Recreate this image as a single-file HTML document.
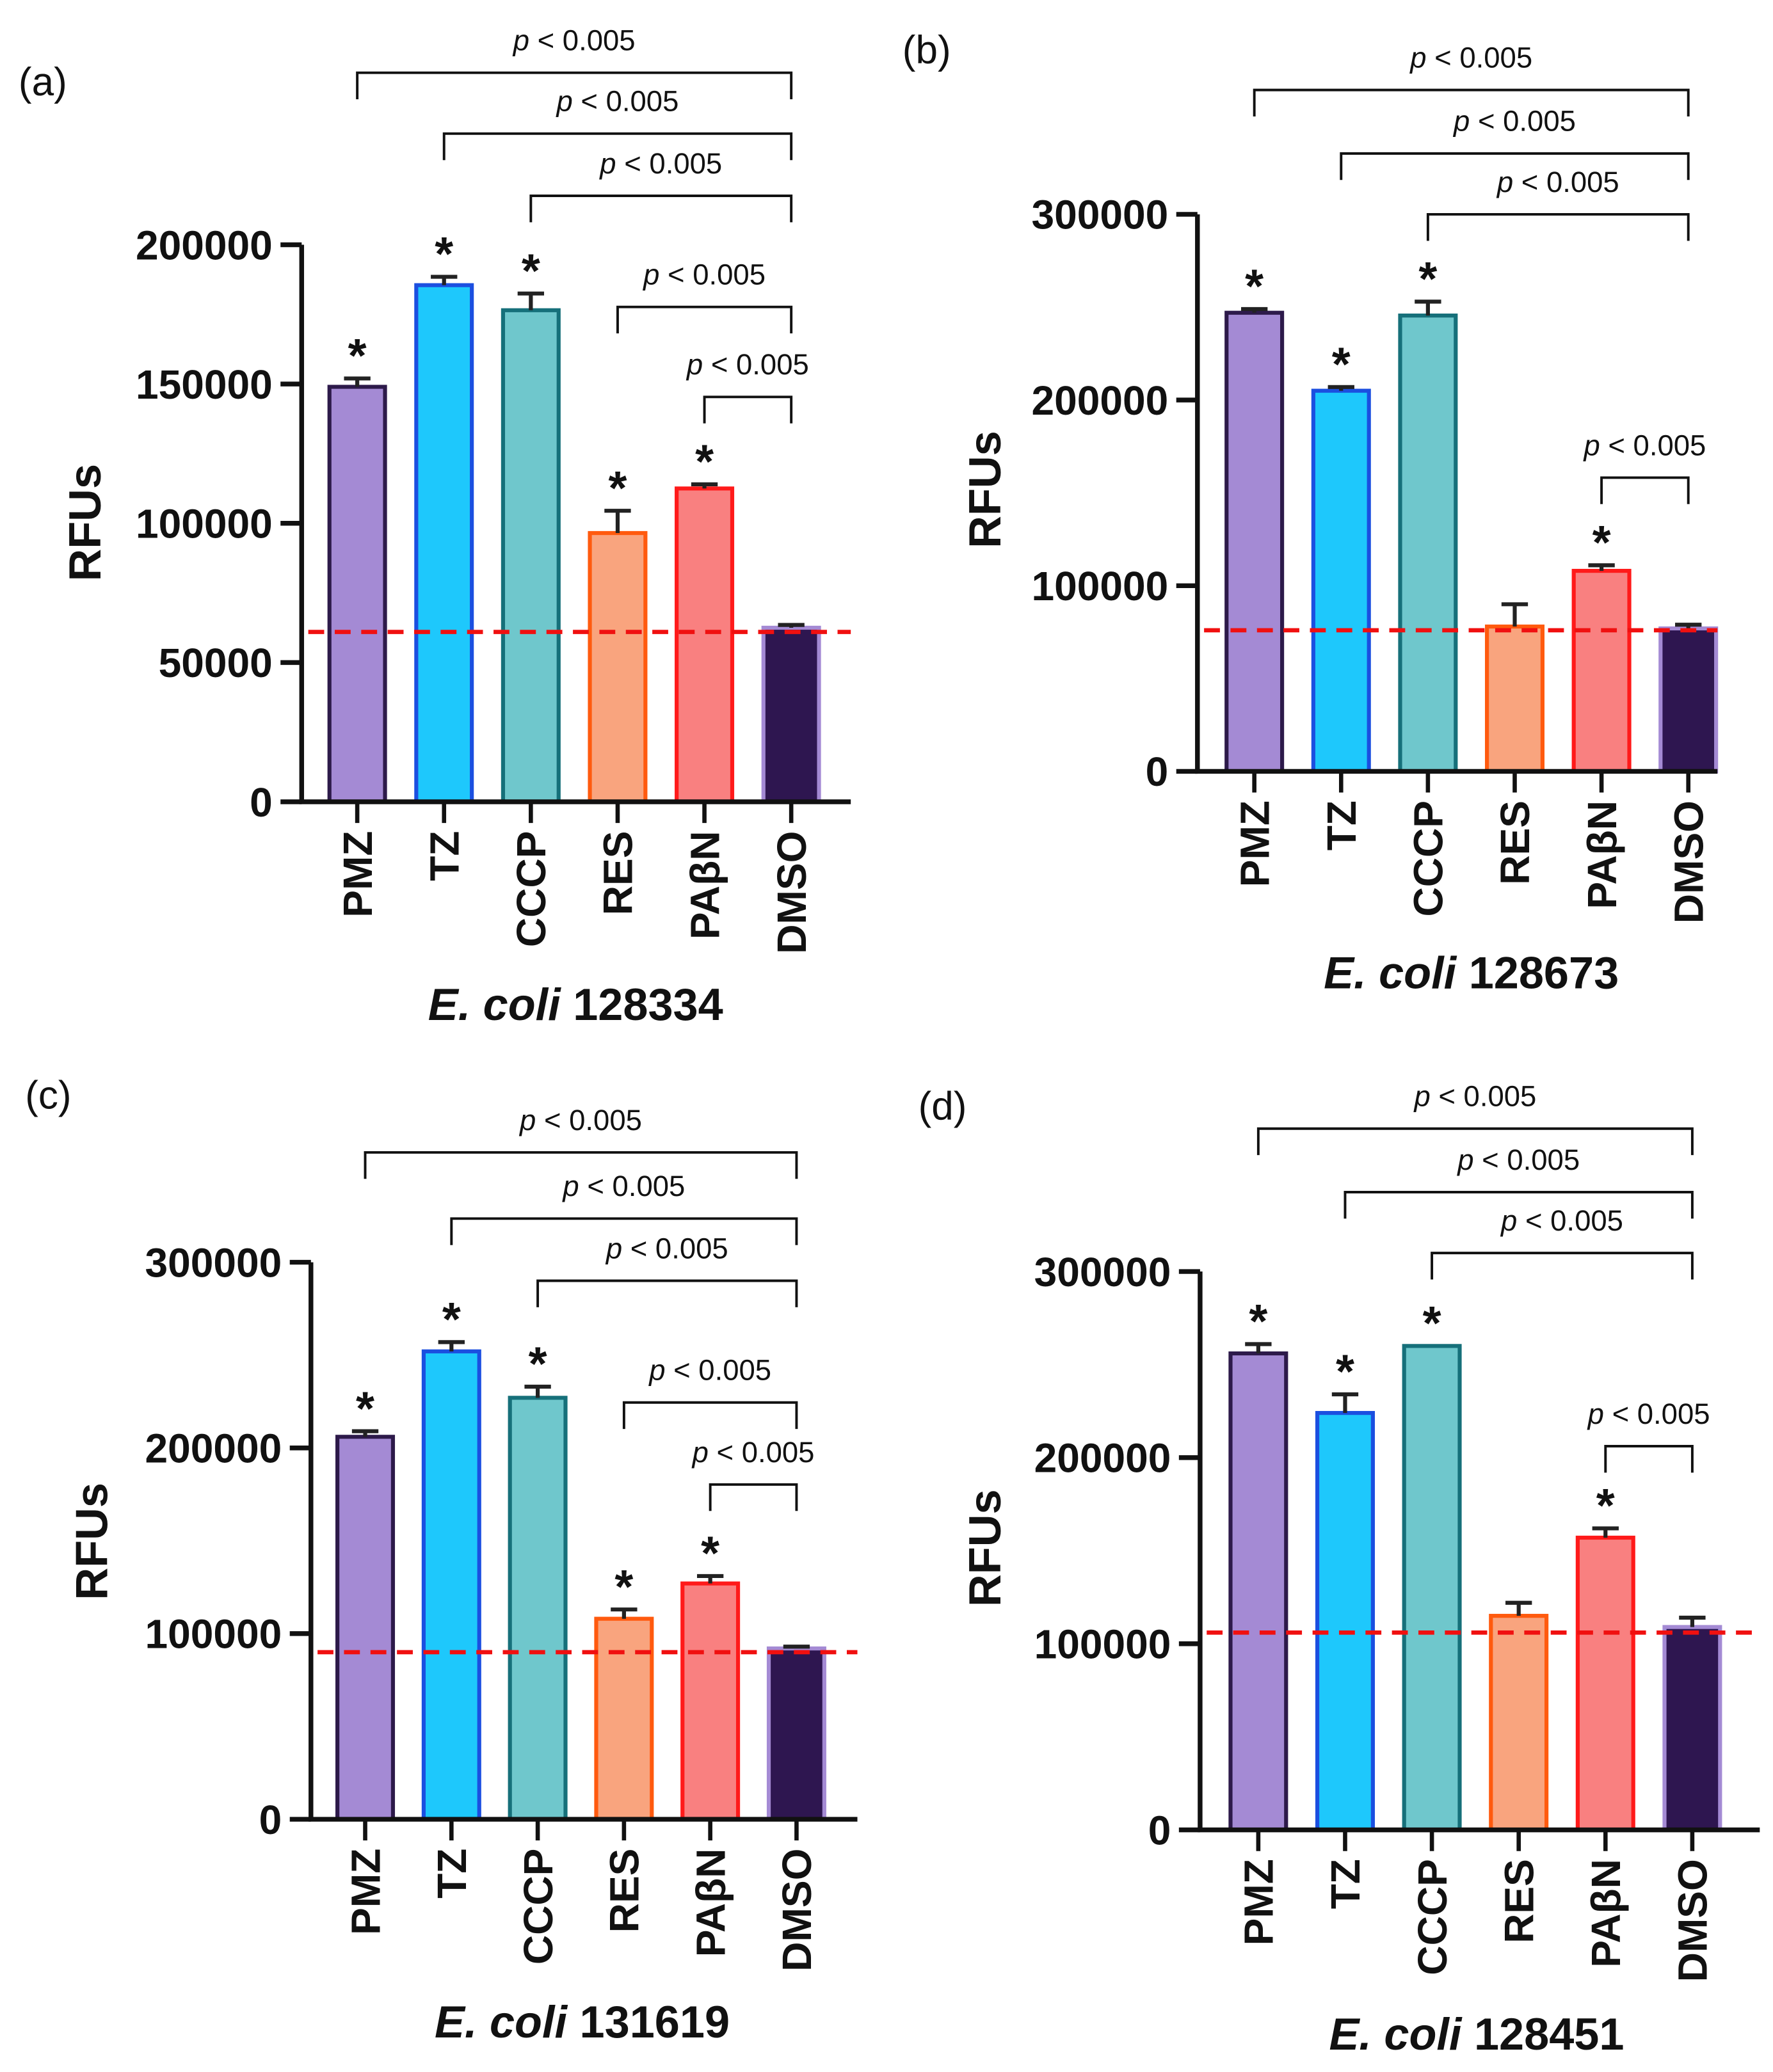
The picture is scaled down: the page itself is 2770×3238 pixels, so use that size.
<!DOCTYPE html>
<html><head><meta charset="utf-8"><style>
html,body{margin:0;padding:0;background:#fff;}
svg{display:block;}
text{font-family:"Liberation Sans",Arial,sans-serif;}
</style></head><body>
<svg id="fig" width="2770" height="3238" viewBox="0 0 1340 1566" preserveAspectRatio="none" xmlns="http://www.w3.org/2000/svg"></svg>
<script>
const categories = ["PMZ","TZ","CCCP","RES","PAβN","DMSO"];
const valuesA = [149000,185500,176500,96500,112500,62500];
const errorsA = [3000,3000,6000,8000,1500,1000];
const starsA = [true,true,true,true,true,false];
const baselineA = 61000;
const ticksA = [0,50000,100000,150000,200000];
const valuesB = [247000,205000,245500,78000,108000,77000];
const errorsB = [2000,2000,7500,12000,3000,2000];
const starsB = [true,true,true,false,true,false];
const baselineB = 76000;
const ticksB = [0,100000,200000,300000];
const valuesC = [206000,252000,227000,108000,127000,92000];
const errorsC = [3000,5000,6000,5000,4000,1000];
const starsC = [true,true,true,true,true,false];
const baselineC = 90000;
const ticksC = [0,100000,200000,300000];
const valuesD = [256000,224000,260000,115000,157000,109000];
const errorsD = [5000,10000,0,7000,5000,5000];
const starsD = [true,true,true,false,true,false];
const baselineD = 106000;
const ticksD = [0,100000,200000,300000];
const bracketsA = [0,1,2,3,4];
const bracketsB = [0,1,2,4];
const pText = "p < 0.005";

const fills = ["#a48ad4","#1ec8fc","#6fc7cc","#f9a47e","#f98080","#2e1650"];
const strokes = ["#2d1a4a","#1b4fe0","#16707a","#ff5a0e","#ff1a1a","#a48ad4"];
const NS = "http://www.w3.org/2000/svg";
const svg = document.getElementById('fig');
function mk(tag, attrs, parent){ const e=document.createElementNS(NS,tag); for(const k in attrs) e.setAttribute(k,attrs[k]); (parent||svg).appendChild(e); return e; }

const panels = [
 {id:'a', label:'(a)', lx:14, ly:72, ax:228, top:185, zero:606, ymax:200000, right:643, x0:270, step:65.6, vals:valuesA, errs:errorsA, stars:starsA, base:baselineA, ticks:ticksA, br:bracketsA, brY:[55,101,148,232,300], title:'128334', tx:435, ty:771, rx:76, ry:395},
 {id:'b', label:'(b)', lx:682, ly:48, ax:905, top:162, zero:583, ymax:300000, right:1298, x0:948, step:65.6, vals:valuesB, errs:errorsB, stars:starsB, base:baselineB, ticks:ticksB, br:bracketsB, brY:[68,116,162,361], title:'128673', tx:1112, ty:747, rx:756, ry:370},
 {id:'c', label:'(c)', lx:19, ly:838, ax:235, top:954, zero:1375, ymax:300000, right:648, x0:276, step:65.2, vals:valuesC, errs:errorsC, stars:starsC, base:baselineC, ticks:ticksC, br:bracketsA, brY:[871,921,968,1060,1122], title:'131619', tx:440, ty:1540, rx:81, ry:1165},
 {id:'d', label:'(d)', lx:694, ly:846, ax:907, top:961, zero:1383, ymax:300000, right:1330, x0:951, step:65.6, vals:valuesD, errs:errorsD, stars:starsD, base:baselineD, ticks:ticksD, br:bracketsB, brY:[853,901,947,1093], title:'128451', tx:1116, ty:1549, rx:756, ry:1170}
];

panels.forEach(p=>{
  const g = mk('g',{});
  
  
  const y = v => p.zero - (v/p.ymax)*(p.zero-p.top);
  const x = i => p.x0 + i*p.step;
  const bw = 42;
  const lab = mk('text',{x:p.lx,y:p.ly,'font-size':30,fill:'#111'},g); lab.textContent=p.label;
   
  p.vals.forEach((v,i)=>{
    const r = mk('rect',{x:x(i)-bw/2,y:y(v),width:bw,height:p.zero-y(v),fill:fills[i],stroke:strokes[i],'stroke-width':3},g);
    
    
    if(p.errs[i]>0){
      const e = mk('path',{d:`M${x(i)},${y(v)} V${y(v+p.errs[i])} M${x(i)-10},${y(v+p.errs[i])} H${x(i)+10}`,stroke:'#222','stroke-width':3,fill:'none'},g);
      
      
    }
    if(p.stars[i]){
      const s = mk('text',{x:x(i),y:y(v+p.errs[i])-5,'text-anchor':'middle','font-size':36,'font-weight':'bold',fill:'#111'},g);
      s.textContent='*';
      
      
    }
    mk('line',{x1:x(i),x2:x(i),y1:p.zero,y2:p.zero+16,stroke:'#111','stroke-width':3.2},g);
    const t = mk('text',{transform:`translate(${x(i)+11},${p.zero+22}) rotate(-90)`,'text-anchor':'end','font-size':31,'font-weight':'bold',fill:'#111'},g);
    t.textContent = categories[i];
    
    
  });
  const bl = mk('line',{x1:p.ax+5,x2:p.right,y1:y(p.base),y2:y(p.base),stroke:'#f01010','stroke-width':3.2,'stroke-dasharray':'12,8'},g);
  
  
  const axs = mk('path',{d:`M${p.ax},${p.top} V${p.zero} H${p.right}`,stroke:'#111','stroke-width':3.6,fill:'none'},g);
  
  
  p.ticks.forEach(tv=>{
    mk('line',{x1:p.ax-16,x2:p.ax,y1:y(tv),y2:y(tv),stroke:'#111','stroke-width':3.6},g);
    const tl = mk('text',{x:p.ax-22,y:y(tv)+11,'text-anchor':'end','font-size':31,'font-weight':'bold',fill:'#111'},g);
    tl.textContent = tv;
    
    
  });
  const yt = mk('text',{transform:`translate(${p.rx},${p.ry}) rotate(-90)`,'text-anchor':'middle','font-size':34,'font-weight':'bold',fill:'#111'},g);
  yt.textContent='RFUs';
  
  
  const xt = mk('text',{x:p.tx,y:p.ty,'text-anchor':'middle','font-size':34,'font-weight':'bold',fill:'#111'},g);
  xt.innerHTML = '<tspan font-style="italic">E. coli</tspan> '+p.title;
  
  
  p.br.forEach((ci,k)=>{
    const by = p.brY[k];
    const x1 = x(ci), x2 = x(5);
    const b = mk('path',{d:`M${x1},${by+20} V${by} H${x2} V${by+20}`,stroke:'#111','stroke-width':1.9,fill:'none'},g);
    
    
    const pt = mk('text',{x:(x1+x2)/2,y:by-17,'text-anchor':'middle','font-size':22,fill:'#111'},g);
    pt.innerHTML = '<tspan font-style="italic">p</tspan> &lt; 0.005';
    
    
  });
});
</script>
</body></html>
